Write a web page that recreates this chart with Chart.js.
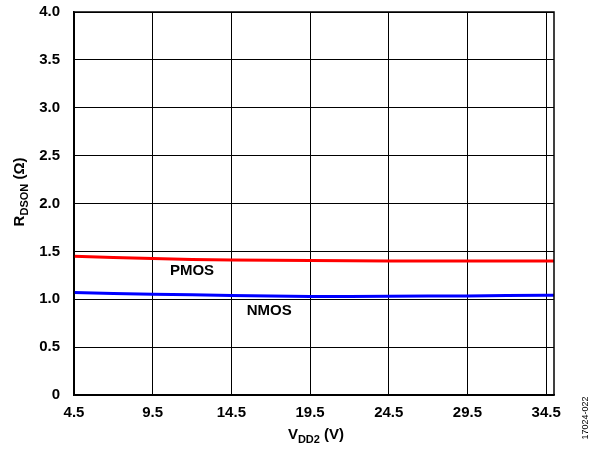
<!DOCTYPE html>
<html>
<head>
<meta charset="utf-8">
<script src="https://cdn.jsdelivr.net/npm/chart.js@4/dist/chart.umd.min.js"></script>
<style>
  html, body { margin: 0; padding: 0; background: #fff; }
  #wrap { width: 597px; height: 452px; }
</style>
</head>
<body>
<div id="wrap"><canvas id="myChart" width="597" height="452"></canvas></div>
<script>
let popCanvas = document.getElementById("myChart");

// ---- data ----
let vdd2 = [4.5, 9.5, 14.5, 19.5, 24.5, 29.5, 34.5, 35];
let pmosR = [1.45, 1.425, 1.41, 1.405, 1.40, 1.40, 1.40, 1.40];
let nmosR = [1.07, 1.053, 1.04, 1.03, 1.032, 1.035, 1.042, 1.042];
let xTicks = [4.5, 9.5, 14.5, 19.5, 24.5, 29.5, 34.5];

let FONT = "'Liberation Sans', Arial, sans-serif";

function toPoints(xs, ys) {
    return xs.map((x, i) => ({ x: x, y: ys[i] }));
}

// text with a subscript part: [main, sub, rest]
function drawSubText(ctx, parts, x, y, size) {
    let main = "bold " + size + "px " + FONT;
    let sub = "bold " + Math.round(size * 0.75) + "px " + FONT;
    ctx.font = main;
    let w0 = ctx.measureText(parts[0]).width;
    let w2 = ctx.measureText(parts[2]).width;
    ctx.font = sub;
    let w1 = ctx.measureText(parts[1]).width;
    let start = x - (w0 + w1 + w2) / 2;
    ctx.textAlign = "left";
    ctx.textBaseline = "alphabetic";
    ctx.font = main;
    ctx.fillText(parts[0], start, y);
    ctx.font = sub;
    ctx.fillText(parts[1], start + w0, y + 4);
    ctx.font = main;
    ctx.fillText(parts[2], start + w0 + w1, y);
}

let extras = {
    id: "extras",
    afterDraw(chart) {
        let ctx = chart.ctx;
        let a = chart.chartArea;
        let xs = chart.scales.x, ys = chart.scales.y;
        ctx.save();
        // frame
        ctx.strokeStyle = "#000";
        ctx.lineWidth = 1.5;
        ctx.strokeRect(a.left, a.top, a.right - a.left, a.bottom - a.top);
        ctx.fillStyle = "#000";
        // curve labels
        ctx.font = "bold 15px " + FONT;
        ctx.textAlign = "center";
        ctx.textBaseline = "middle";
        ctx.fillText("PMOS", xs.getPixelForValue(12.0), ys.getPixelForValue(1.30));
        ctx.fillText("NMOS", xs.getPixelForValue(16.9), ys.getPixelForValue(0.876));
        // axis titles
        drawSubText(ctx, ["V", "DD2", " (V)"], 316, 439, 15);
        ctx.save();
        ctx.translate(24, 192);
        ctx.rotate(-Math.PI / 2);
        drawSubText(ctx, ["R", "DSON", " (\u03A9)"], 0, 0, 15);
        ctx.restore();
        // figure id
        ctx.save();
        ctx.translate(588, 418);
        ctx.rotate(-Math.PI / 2);
        ctx.font = "9px " + FONT;
        ctx.textAlign = "center";
        ctx.textBaseline = "alphabetic";
        ctx.fillText("17024-022", 0, 0);
        ctx.restore();
        ctx.restore();
    }
};

let lineChart = new Chart(popCanvas, {
    type: "line",
    data: {
        datasets: [
            {
                label: "PMOS",
                data: toPoints(vdd2, pmosR),
                borderColor: "#ff0000",
                borderWidth: 3,
                pointRadius: 0,
                tension: 0.4,
                fill: false
            },
            {
                label: "NMOS",
                data: toPoints(vdd2, nmosR),
                borderColor: "#0000ff",
                borderWidth: 3,
                pointRadius: 0,
                tension: 0.4,
                fill: false
            }
        ]
    },
    options: {
        responsive: false,
        animation: false,
        layout: { padding: { top: 12, right: 43, left: 0, bottom: 0 } },
        plugins: {
            legend: { display: false },
            tooltip: { enabled: false }
        },
        scales: {
            x: {
                type: "linear",
                min: 4.5,
                max: 35,
                afterBuildTicks: (s) => { s.ticks = xTicks.map(v => ({ value: v })); },
                afterFit: (s) => { s.height = 57; s.paddingLeft = 0; s.paddingRight = 0; },
                grid: { color: "#000", lineWidth: 1, drawTicks: false },
                border: { color: "#000", width: 1.5 },
                ticks: {
                    color: "#000",
                    padding: 9,
                    maxRotation: 0,
                    font: { family: FONT, size: 15, weight: "bold" },
                    callback: (v) => v.toFixed(1)
                }
            },
            y: {
                min: 0,
                max: 4,
                afterFit: (s) => { s.width = 74; s.paddingTop = 0; s.paddingBottom = 0; },
                grid: { color: "#000", lineWidth: 1, drawTicks: false },
                border: { color: "#000", width: 1.5 },
                ticks: {
                    stepSize: 0.5,
                    color: "#000",
                    padding: 14,
                    font: { family: FONT, size: 15, weight: "bold" },
                    callback: (v) => v === 0 ? "0" : v.toFixed(1)
                }
            }
        }
    },
    plugins: [extras]
});
</script>
</body>
</html>
